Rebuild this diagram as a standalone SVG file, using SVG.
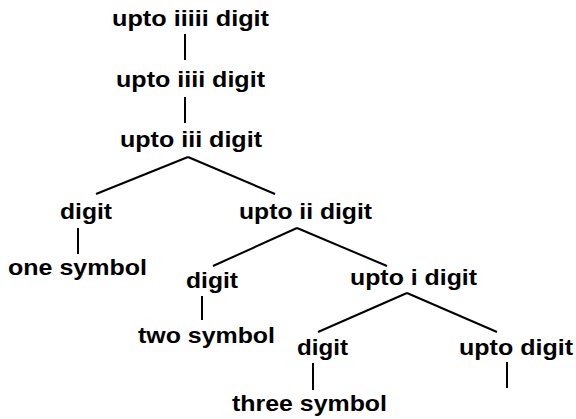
<svg xmlns="http://www.w3.org/2000/svg" width="576" height="419" viewBox="0 0 576 419">
<style>
text { font-family: "Liberation Sans", Arial, sans-serif; font-weight: bold; font-size: 22px; fill: #000; }
.e line { stroke: #000; stroke-width: 2; }
</style>
<rect width="576" height="419" fill="#fff"/>
<g class="e" id="connectors">
<line x1="185" y1="34" x2="185" y2="60"/>
<line x1="185" y1="97" x2="185" y2="123"/>
<line x1="188" y1="157" x2="96" y2="194"/>
<line x1="188" y1="157" x2="275" y2="194"/>
<line x1="78" y1="228" x2="78" y2="254"/>
<line x1="297" y1="228" x2="213" y2="266"/>
<line x1="297" y1="228" x2="387" y2="266"/>
<line x1="202" y1="296" x2="202" y2="320"/>
<line x1="407" y1="293" x2="318" y2="332"/>
<line x1="407" y1="293" x2="497" y2="332"/>
<line x1="313" y1="363" x2="313" y2="390"/>
<line x1="507" y1="362" x2="507" y2="388"/>
</g>
<g id="n1"><text x="112" y="26" textLength="157" lengthAdjust="spacingAndGlyphs">upto iiiii digit</text></g>
<g id="n2"><text x="116" y="87" textLength="149" lengthAdjust="spacingAndGlyphs">upto iiii digit</text></g>
<g id="n3"><text x="120" y="147" textLength="142" lengthAdjust="spacingAndGlyphs">upto iii digit</text></g>
<g id="n4"><text x="60" y="219" textLength="52" lengthAdjust="spacingAndGlyphs">digit</text></g>
<g id="n5"><text x="239" y="219" textLength="133" lengthAdjust="spacingAndGlyphs">upto ii digit</text></g>
<g id="n6"><text x="8" y="275" textLength="139" lengthAdjust="spacingAndGlyphs">one symbol</text></g>
<g id="n7"><text x="186" y="288" textLength="52" lengthAdjust="spacingAndGlyphs">digit</text></g>
<g id="n8"><text x="350" y="285" textLength="127" lengthAdjust="spacingAndGlyphs">upto i digit</text></g>
<g id="n9"><text x="138" y="343" textLength="137" lengthAdjust="spacingAndGlyphs">two symbol</text></g>
<g id="n10"><text x="297" y="355" textLength="51" lengthAdjust="spacingAndGlyphs">digit</text></g>
<g id="n11"><text x="459" y="355" textLength="114" lengthAdjust="spacingAndGlyphs">upto digit</text></g>
<g id="n12"><text x="232" y="411" textLength="155" lengthAdjust="spacingAndGlyphs">three symbol</text></g>
</svg>
